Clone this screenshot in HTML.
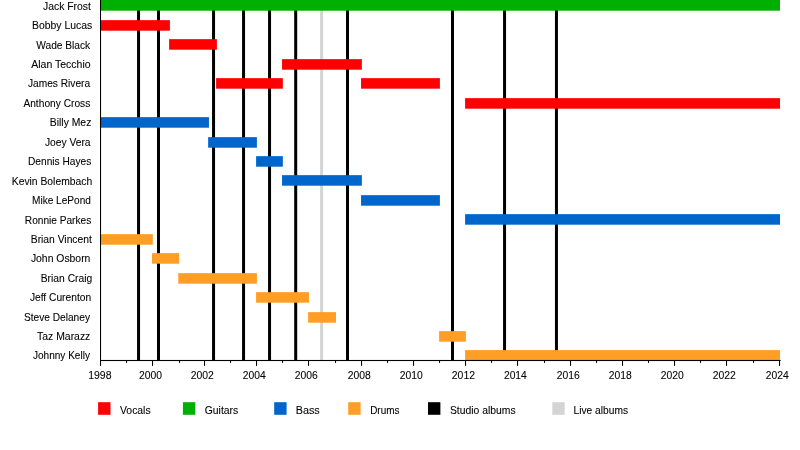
<!DOCTYPE html><html><head><meta charset="utf-8"><title>Timeline</title><style>html,body{margin:0;padding:0;background:#fff}svg{display:block}text{font-family:"Liberation Sans",Arial,sans-serif;fill:#000;stroke:#000;stroke-width:0.08px}</style></head><body>
<svg width="800" height="450" viewBox="0 0 800 450">
<rect width="800" height="450" fill="#fff"/>
<rect x="137.05" y="0" width="3" height="360.40" fill="#000"/>
<rect x="157.00" y="0" width="3" height="360.40" fill="#000"/>
<rect x="212.05" y="0" width="3" height="360.40" fill="#000"/>
<rect x="242.05" y="0" width="3" height="360.40" fill="#000"/>
<rect x="268.05" y="0" width="3" height="360.40" fill="#000"/>
<rect x="294.20" y="0" width="3" height="360.40" fill="#000"/>
<rect x="320.10" y="0" width="3" height="360.40" fill="#d4d4d4"/>
<rect x="346.00" y="0" width="3" height="360.40" fill="#000"/>
<rect x="451.00" y="0" width="3" height="360.40" fill="#000"/>
<rect x="503.05" y="0" width="3" height="360.40" fill="#000"/>
<rect x="554.95" y="0" width="3" height="360.40" fill="#000"/>
<rect x="100.50" y="0.00" width="679.50" height="10.70" fill="#00b000"/>
<rect x="100.50" y="20.15" width="69.40" height="10.55" fill="#ff0000"/>
<rect x="169.10" y="39.15" width="47.80" height="10.55" fill="#ff0000"/>
<rect x="282.05" y="59.15" width="79.80" height="10.55" fill="#ff0000"/>
<rect x="216.10" y="78.15" width="66.75" height="10.55" fill="#ff0000"/>
<rect x="361.05" y="78.15" width="78.85" height="10.55" fill="#ff0000"/>
<rect x="465.10" y="98.15" width="314.90" height="10.55" fill="#ff0000"/>
<rect x="100.50" y="117.15" width="108.45" height="10.55" fill="#0066cc"/>
<rect x="208.15" y="137.15" width="48.75" height="10.55" fill="#0066cc"/>
<rect x="256.10" y="156.15" width="26.75" height="10.55" fill="#0066cc"/>
<rect x="282.05" y="175.15" width="79.80" height="10.55" fill="#0066cc"/>
<rect x="361.05" y="195.15" width="78.85" height="10.55" fill="#0066cc"/>
<rect x="465.10" y="214.15" width="314.90" height="10.55" fill="#0066cc"/>
<rect x="100.50" y="234.15" width="52.30" height="10.55" fill="#ff9e24"/>
<rect x="152.00" y="253.15" width="27.10" height="10.55" fill="#ff9e24"/>
<rect x="178.30" y="273.15" width="78.60" height="10.55" fill="#ff9e24"/>
<rect x="256.10" y="292.15" width="52.85" height="10.55" fill="#ff9e24"/>
<rect x="308.15" y="312.15" width="27.85" height="10.55" fill="#ff9e24"/>
<rect x="439.10" y="331.15" width="26.80" height="10.55" fill="#ff9e24"/>
<rect x="465.10" y="350.10" width="314.90" height="10.10" fill="#ff9e24"/>
<rect x="100" y="0" width="1.05" height="365.9" fill="#000"/>
<rect x="100" y="359.95" width="680.6" height="1.1" fill="#000"/>
<rect x="126" y="360" width="1.05" height="2.9" fill="#000"/>
<rect x="152" y="360" width="1.05" height="5.9" fill="#000"/>
<rect x="179" y="360" width="1.05" height="2.9" fill="#000"/>
<rect x="204" y="360" width="1.05" height="5.9" fill="#000"/>
<rect x="230" y="360" width="1.05" height="2.9" fill="#000"/>
<rect x="256" y="360" width="1.05" height="5.9" fill="#000"/>
<rect x="282" y="360" width="1.05" height="2.9" fill="#000"/>
<rect x="308" y="360" width="1.05" height="5.9" fill="#000"/>
<rect x="335" y="360" width="1.05" height="2.9" fill="#000"/>
<rect x="361" y="360" width="1.05" height="5.9" fill="#000"/>
<rect x="387" y="360" width="1.05" height="2.9" fill="#000"/>
<rect x="413" y="360" width="1.05" height="5.9" fill="#000"/>
<rect x="439" y="360" width="1.05" height="2.9" fill="#000"/>
<rect x="465" y="360" width="1.05" height="5.9" fill="#000"/>
<rect x="491" y="360" width="1.05" height="2.9" fill="#000"/>
<rect x="517" y="360" width="1.05" height="5.9" fill="#000"/>
<rect x="544" y="360" width="1.05" height="2.9" fill="#000"/>
<rect x="570" y="360" width="1.05" height="5.9" fill="#000"/>
<rect x="596" y="360" width="1.05" height="2.9" fill="#000"/>
<rect x="622" y="360" width="1.05" height="5.9" fill="#000"/>
<rect x="648" y="360" width="1.05" height="2.9" fill="#000"/>
<rect x="674" y="360" width="1.05" height="5.9" fill="#000"/>
<rect x="700" y="360" width="1.05" height="2.9" fill="#000"/>
<rect x="726" y="360" width="1.05" height="5.9" fill="#000"/>
<rect x="753" y="360" width="1.05" height="2.9" fill="#000"/>
<rect x="779" y="360" width="1.05" height="5.9" fill="#000"/>
<text transform="translate(88.14,378.60) scale(1.0091,1.0)" font-size="10.4">1998</text>
<text transform="translate(138.90,378.60) scale(0.9978,1.0)" font-size="10.4">2000</text>
<text transform="translate(190.70,378.60) scale(1.0034,1.0)" font-size="10.4">2002</text>
<text transform="translate(242.80,378.60) scale(0.9922,1.0)" font-size="10.4">2004</text>
<text transform="translate(294.70,378.60) scale(0.9978,1.0)" font-size="10.4">2006</text>
<text transform="translate(347.70,378.60) scale(0.9978,1.0)" font-size="10.4">2008</text>
<text transform="translate(399.80,378.60) scale(0.9978,1.0)" font-size="10.4">2010</text>
<text transform="translate(451.80,378.60) scale(1.0034,1.0)" font-size="10.4">2012</text>
<text transform="translate(503.90,378.60) scale(0.9922,1.0)" font-size="10.4">2014</text>
<text transform="translate(556.70,378.60) scale(0.9978,1.0)" font-size="10.4">2016</text>
<text transform="translate(608.80,378.60) scale(0.9978,1.0)" font-size="10.4">2018</text>
<text transform="translate(660.80,378.60) scale(0.9978,1.0)" font-size="10.4">2020</text>
<text transform="translate(712.70,378.60) scale(1.0034,1.0)" font-size="10.4">2022</text>
<text transform="translate(765.80,378.60) scale(0.9922,1.0)" font-size="10.4">2024</text>
<text transform="translate(42.97,10.10) scale(1.0010,1.03)" font-size="10.4">Jack Frost</text>
<text transform="translate(32.00,29.10) scale(1.0025,1.03)" font-size="10.4">Bobby Lucas</text>
<text transform="translate(36.25,48.70) scale(0.9796,1.03)" font-size="10.4">Wade Black</text>
<text transform="translate(31.25,68.00) scale(1.0107,1.03)" font-size="10.4">Alan Tecchio</text>
<text transform="translate(27.98,87.10) scale(0.9787,1.03)" font-size="10.4">James Rivera</text>
<text transform="translate(23.40,106.80) scale(0.9812,1.03)" font-size="10.4">Anthony Cross</text>
<text transform="translate(49.85,125.90) scale(0.9981,1.03)" font-size="10.4">Billy Mez</text>
<text transform="translate(44.88,145.70) scale(0.9886,1.03)" font-size="10.4">Joey Vera</text>
<text transform="translate(28.02,164.70) scale(0.9784,1.03)" font-size="10.4">Dennis Hayes</text>
<text transform="translate(11.75,184.70) scale(0.9950,1.03)" font-size="10.4">Kevin Bolembach</text>
<text transform="translate(32.02,203.90) scale(0.9705,1.03)" font-size="10.4">Mike LePond</text>
<text transform="translate(24.87,223.50) scale(0.9743,1.03)" font-size="10.4">Ronnie Parkes</text>
<text transform="translate(30.76,242.90) scale(0.9922,1.03)" font-size="10.4">Brian Vincent</text>
<text transform="translate(30.88,262.00) scale(1.0000,1.03)" font-size="10.4">John Osborn</text>
<text transform="translate(40.76,281.70) scale(0.9896,1.03)" font-size="10.4">Brian Craig</text>
<text transform="translate(29.88,301.00) scale(0.9854,1.03)" font-size="10.4">Jeff Curenton</text>
<text transform="translate(23.91,321.00) scale(0.9773,1.03)" font-size="10.4">Steve Delaney</text>
<text transform="translate(37.12,340.00) scale(1.0024,1.03)" font-size="10.4">Taz Marazz</text>
<text transform="translate(32.98,359.10) scale(0.9665,1.03)" font-size="10.4">Johnny Kelly</text>
<rect x="98.1" y="402.2" width="12.4" height="12.6" fill="#ff0000"/>
<text transform="translate(120.00,414.10) scale(1.0000,1.0)" font-size="10.4">Vocals</text>
<rect x="182.9" y="402.2" width="12.4" height="12.6" fill="#00b000"/>
<text transform="translate(204.75,414.10) scale(1.0008,1.0)" font-size="10.4">Guitars</text>
<rect x="274.2" y="402.2" width="12.4" height="12.6" fill="#0066cc"/>
<text transform="translate(295.72,414.10) scale(1.0409,1.0)" font-size="10.4">Bass</text>
<rect x="348.2" y="402.2" width="12.4" height="12.6" fill="#ff9e24"/>
<text transform="translate(370.18,414.10) scale(0.9559,1.0)" font-size="10.4">Drums</text>
<rect x="428.0" y="402.2" width="12.4" height="12.6" fill="#000"/>
<text transform="translate(449.90,414.10) scale(0.9977,1.0)" font-size="10.4">Studio albums</text>
<rect x="552.3" y="402.2" width="12.4" height="12.6" fill="#d4d4d4"/>
<text transform="translate(573.56,414.10) scale(0.9830,1.0)" font-size="10.4">Live albums</text>
</svg></body></html>
